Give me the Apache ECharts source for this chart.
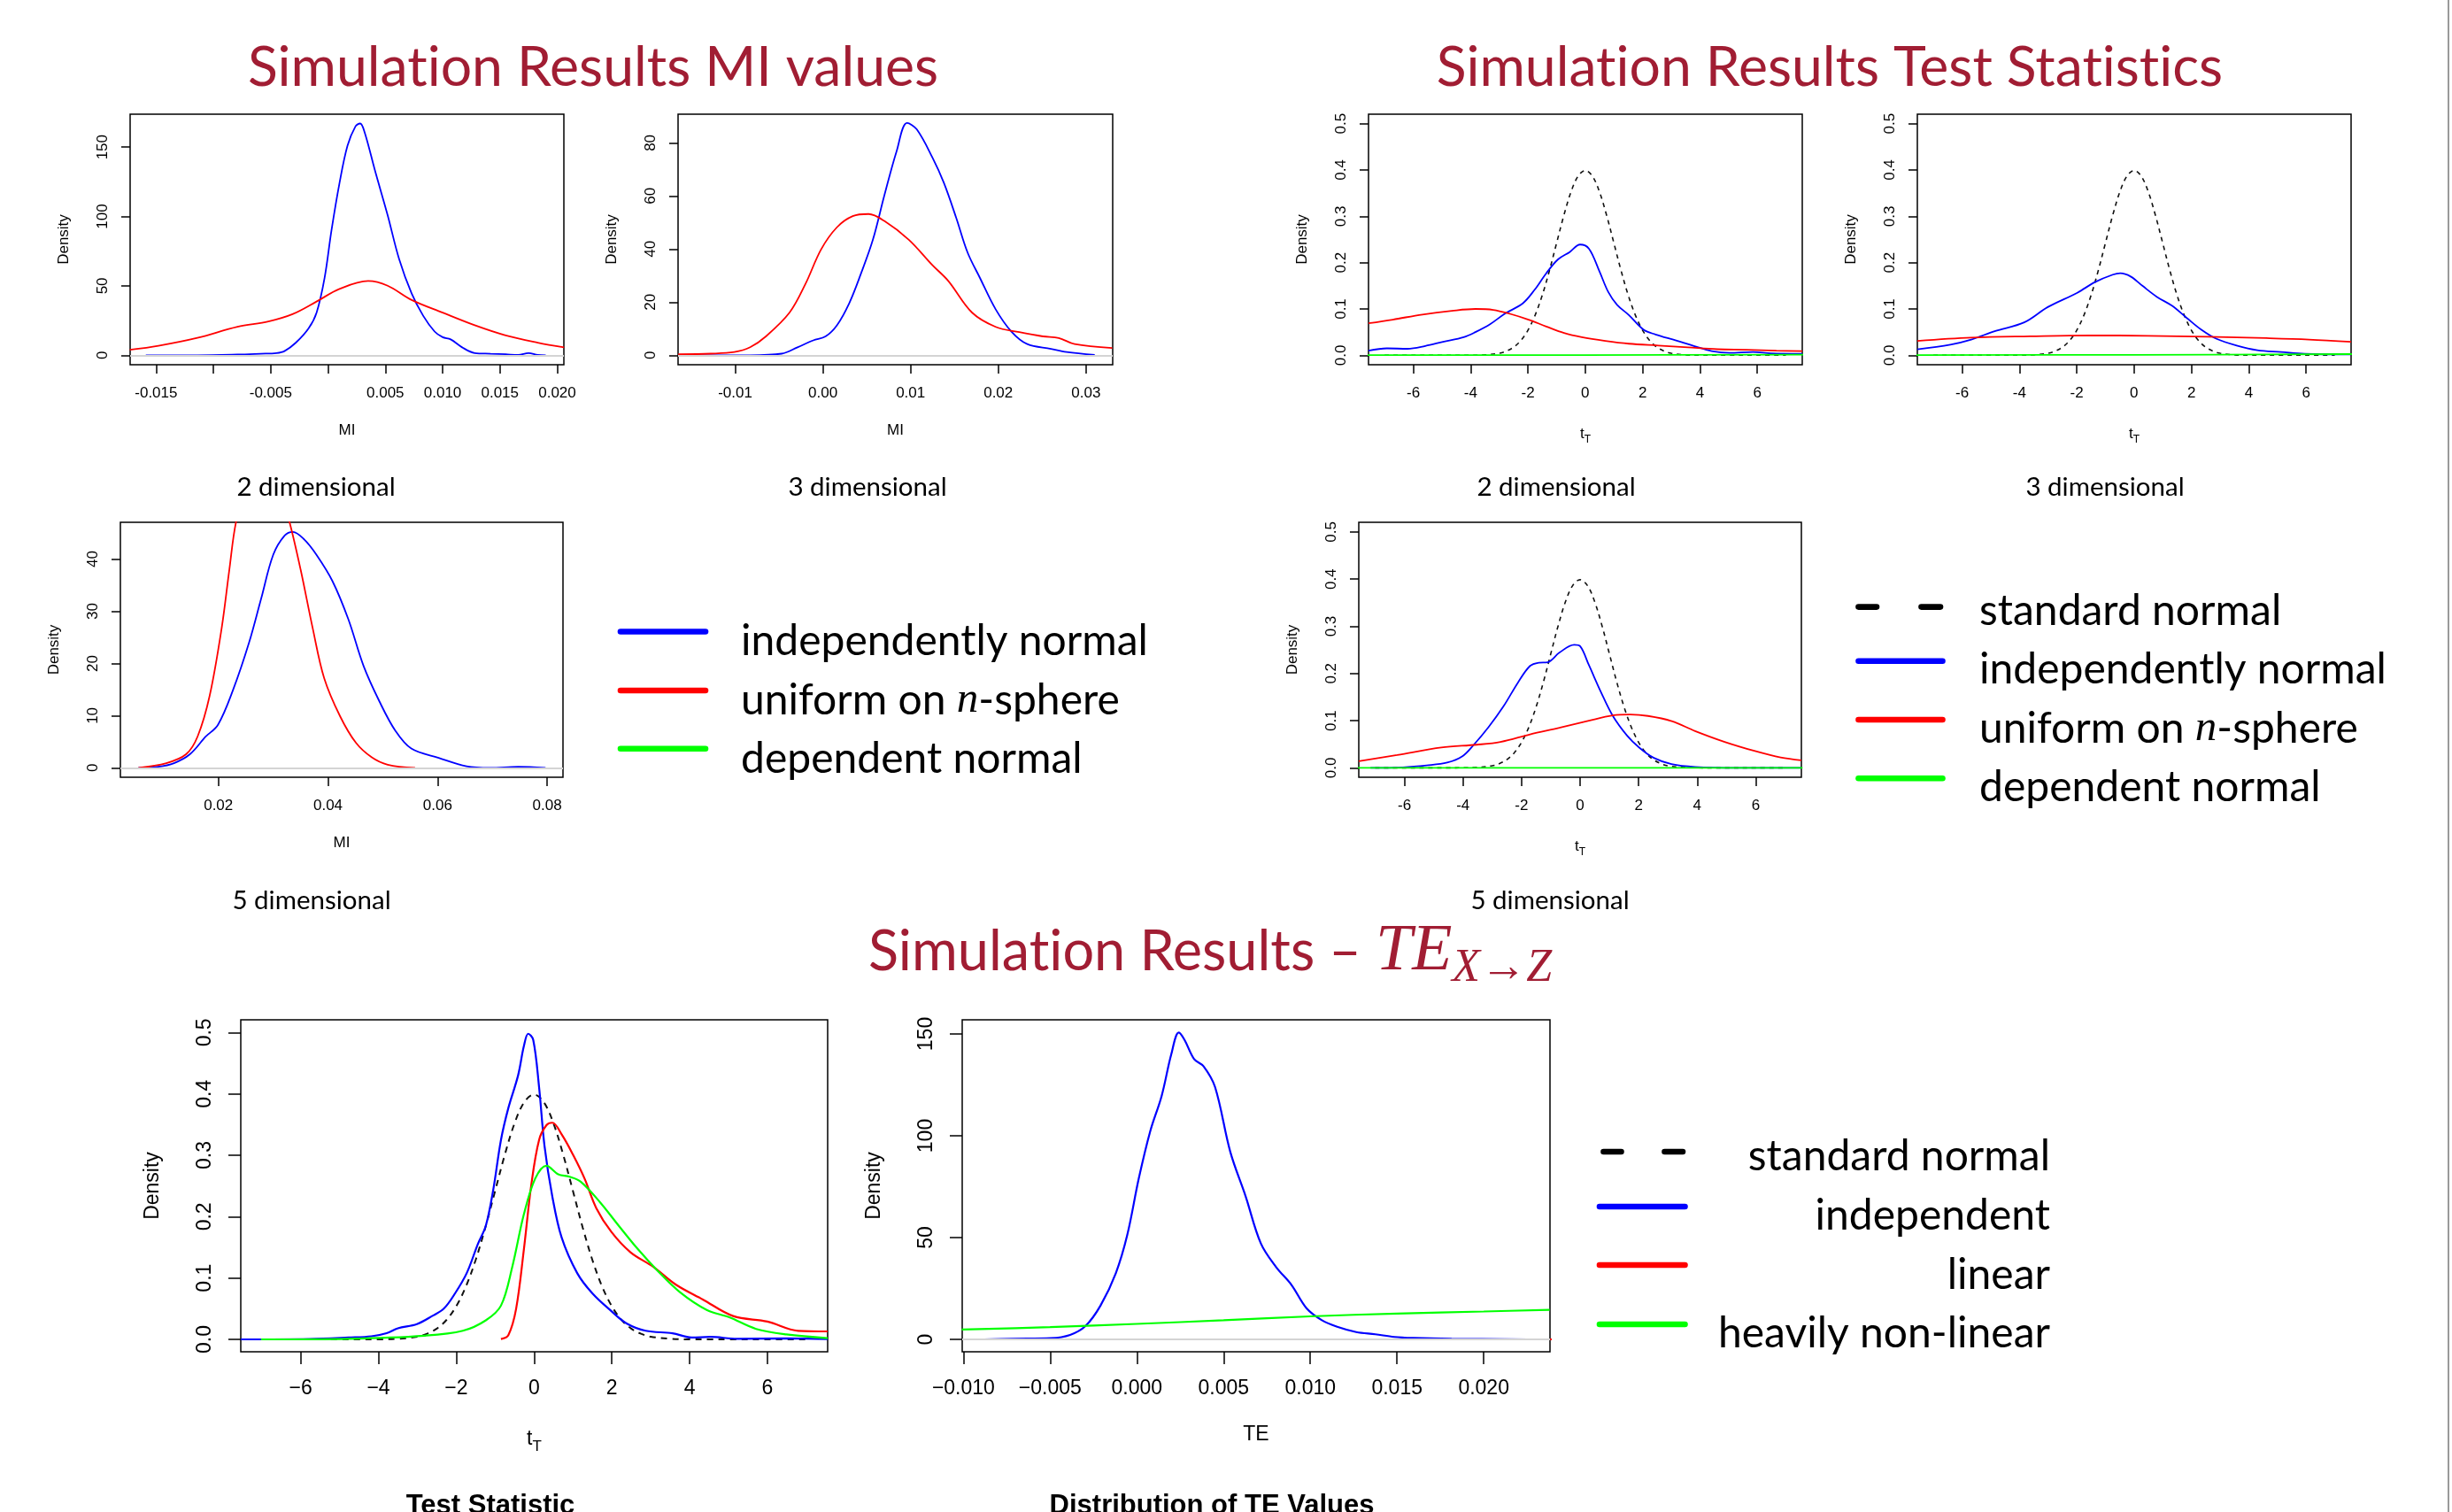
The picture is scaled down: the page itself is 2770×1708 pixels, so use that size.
<!DOCTYPE html>
<html>
<head>
<meta charset="utf-8">
<script src="https://cdn.jsdelivr.net/npm/echarts@6/dist/echarts.min.js"></script>
<style>
  html, body { margin: 0; padding: 0; background: #fff; }
  #main { width: 2770px; height: 1708px; }
</style>
</head>
<body>
<div id="main"></div>
<script>
// density curves, each point is [x, density]

// MI values, 2 dimensional
const mi2Blue = [[-0.0159,0],[-0.0114,0],[-0.0079,0.5],[-0.0059,1.1],[-0.0045,1.6],[-0.0038,3.0],[-0.0028,9.1],[-0.0017,19.3],[-0.0010,30.7],[-0.0003,55.8],[0.0003,89.9],[0.0010,124],[0.0017,151],[0.0024,165],[0.0028,167],[0.0032,160.5],[0.0041,133],[0.0052,101],[0.0062,69.4],[0.0073,44.4],[0.0083,28.5],[0.0093,17.1],[0.0100,13.0],[0.0107,11.4],[0.0117,5.7],[0.0128,1.6],[0.0142,1.1],[0.0155,0.7],[0.0166,0.2],[0.0175,1.6],[0.0183,0.2],[0.0190,0]];
const mi2Red = [[-0.0173,3.9],[-0.0148,6.8],[-0.0114,12.5],[-0.0079,20.5],[-0.0052,24.4],[-0.0031,29.6],[-0.0010,38.7],[0.0010,47.8],[0.0035,53.5],[0.0052,50.1],[0.0073,39.8],[0.0100,30.7],[0.0128,21.6],[0.0155,14.3],[0.0183,9.1],[0.0206,5.7]];

// MI values, 3 dimensional
const mi3Blue = [[-0.0146,0],[-0.0083,0],[-0.0047,0.6],[-0.0029,3.0],[-0.0011,5.6],[0.0003,7.1],[0.0016,11.3],[0.0030,19.6],[0.0043,30.4],[0.0057,43.5],[0.0070,60.1],[0.0084,76.8],[0.0096,87.5],[0.0107,85.1],[0.0125,74.4],[0.0138,64.9],[0.0152,51.8],[0.0165,38.7],[0.0179,29.2],[0.0197,17.3],[0.0215,8.9],[0.0233,4.2],[0.0260,2.4],[0.0278,1.2],[0.0310,0.1]];
const mi3Red = [[-0.0165,0.4],[-0.0128,0.6],[-0.0101,1.2],[-0.0083,3.0],[-0.0065,7.1],[-0.0038,16.1],[-0.0020,26.8],[-0.0002,39.9],[0.0016,48.2],[0.0034,52.4],[0.0052,53.2],[0.0070,50.6],[0.0098,43.5],[0.0125,33.9],[0.0143,28.0],[0.0170,16.1],[0.0197,10.7],[0.0224,8.7],[0.0251,7.1],[0.0269,6.5],[0.0287,4.2],[0.0330,2.7]];

// MI values, 5 dimensional (red runs off the top)
const mi5Blue = [[0.0054,0],[0.0090,0.2],[0.0119,0.9],[0.0148,2.6],[0.0177,6.0],[0.0199,8.2],[0.0227,15.0],[0.0256,24.0],[0.0278,32.4],[0.0300,40.8],[0.0321,44.5],[0.0336,45.2],[0.0357,43.7],[0.0379,40.8],[0.0408,35.8],[0.0437,28.5],[0.0465,19.5],[0.0494,12.7],[0.0523,7.1],[0.0552,3.7],[0.0602,1.9],[0.0653,0.3],[0.0696,0],[0.0747,0.2],[0.0797,0]];
const mi5Red = [[0.0054,0],[0.0105,0.9],[0.0141,2.6],[0.0162,6.0],[0.0184,13.8],[0.0206,26.8],[0.0220,38.0],[0.0232,47.0],[0.0255,56],[0.0280,60],[0.0305,56],[0.0330,47.0],[0.0350,38.0],[0.0372,26.8],[0.0393,17.2],[0.0422,9.9],[0.0451,4.8],[0.0480,2.0],[0.0509,0.6],[0.0559,0]];

// standard normal reference (dashed)
const stdNormal = [[-7,0],[-6,0],[-5,0],[-4.5,0],[-4,0.0001],[-3.5,0.0009],[-3,0.0044],[-2.75,0.0091],[-2.5,0.0175],[-2.25,0.0317],[-2,0.054],[-1.75,0.0863],[-1.5,0.1295],[-1.25,0.1826],[-1,0.242],[-0.75,0.3011],[-0.5,0.3521],[-0.25,0.3867],[0,0.3989],[0.25,0.3867],[0.5,0.3521],[0.75,0.3011],[1,0.242],[1.25,0.1826],[1.5,0.1295],[1.75,0.0863],[2,0.054],[2.25,0.0317],[2.5,0.0175],[2.75,0.0091],[3,0.0044],[3.5,0.0009],[4,0.0001],[4.5,0],[5,0],[6,0],[7,0]];

// test statistics, 2 dimensional
const ts2Blue = [[-7.56,0.010],[-6.92,0.015],[-6.2,0.014],[-5.58,0.020],[-4.96,0.029],[-4.24,0.039],[-3.83,0.050],[-3.32,0.067],[-2.80,0.090],[-2.18,0.112],[-1.77,0.141],[-1.36,0.177],[-0.95,0.207],[-0.54,0.223],[-0.18,0.239],[0.13,0.230],[0.49,0.182],[0.80,0.137],[1.11,0.109],[1.52,0.087],[2.04,0.055],[2.45,0.045],[3.17,0.032],[3.79,0.020],[4.41,0.009],[5.03,0.005],[5.85,0.007],[6.47,0.004],[7.57,0.003]];
const ts2Red = [[-7.56,0.069],[-6.71,0.077],[-5.68,0.088],[-4.65,0.096],[-3.83,0.100],[-3.21,0.098],[-2.60,0.089],[-1.98,0.077],[-1.36,0.062],[-0.74,0.048],[-0.12,0.039],[0.70,0.031],[1.52,0.025],[2.55,0.021],[3.58,0.017],[4.61,0.013],[5.64,0.012],[6.67,0.010],[7.57,0.009]];
const ts2Green = [[-7.6,0.0005],[0,0.0005],[7.6,0.0015]];

// test statistics, 3 dimensional
const ts3Blue = [[-7.56,0.013],[-6.41,0.023],[-5.68,0.034],[-4.86,0.052],[-3.83,0.071],[-3.01,0.104],[-1.98,0.135],[-1.36,0.158],[-0.74,0.174],[-0.48,0.177],[-0.12,0.170],[0.29,0.150],[0.80,0.126],[1.32,0.107],[1.83,0.081],[2.35,0.055],[2.86,0.036],[3.58,0.021],[4.30,0.011],[5.13,0.007],[5.95,0.003],[7.57,0.002]];
const ts3Red = [[-7.56,0.031],[-5.68,0.038],[-3.63,0.041],[-1.57,0.043],[0.49,0.042],[2.55,0.040],[4.61,0.037],[6.1,0.034],[7.57,0.029]];
const ts3Green = [[-7.6,0.0005],[0,0.001],[7.6,0.0025]];

// test statistics, 5 dimensional
const ts5Blue = [[-7.16,0],[-6.05,0.001],[-5.24,0.005],[-4.54,0.011],[-4.03,0.024],[-3.63,0.049],[-3.13,0.086],[-2.62,0.130],[-2.12,0.181],[-1.71,0.216],[-1.41,0.223],[-1.11,0.224],[-0.71,0.244],[-0.20,0.261],[0.00,0.258],[0.30,0.218],[0.71,0.161],[1.11,0.111],[1.61,0.068],[2.02,0.043],[2.52,0.021],[3.12,0.008],[3.93,0.002],[5.34,0],[7.56,0]];
const ts5Red = [[-7.56,0.014],[-6.25,0.027],[-4.74,0.043],[-3.53,0.049],[-2.72,0.055],[-1.71,0.071],[-0.71,0.085],[0.30,0.100],[1.11,0.111],[1.71,0.113],[2.32,0.110],[3.13,0.099],[3.93,0.078],[4.94,0.055],[5.95,0.036],[6.85,0.022],[7.56,0.016]];
const ts5Green = [[-7.6,0],[7.6,0]];

// TE X->Z test statistic
const teStatBlue = [[-7.54,0],[-6.73,0],[-5.75,0.0005],[-4.77,0.003],[-4.18,0.005],[-3.79,0.010],[-3.50,0.018],[-3.01,0.025],[-2.62,0.038],[-2.32,0.050],[-2.03,0.075],[-1.73,0.108],[-1.44,0.156],[-1.24,0.185],[-1.05,0.243],[-0.85,0.325],[-0.66,0.377],[-0.41,0.430],[-0.26,0.478],[-0.15,0.498],[-0.02,0.488],[0.13,0.411],[0.27,0.315],[0.47,0.233],[0.71,0.166],[1.11,0.108],[1.50,0.075],[1.99,0.046],[2.38,0.026],[2.87,0.014],[3.56,0.010],[4.05,0.003],[4.53,0.004],[5.22,0.001],[6.49,0.0015],[7.55,0.0005]];
const teStatRed = [[-0.85,0.0005],[-0.66,0.007],[-0.46,0.050],[-0.26,0.147],[-0.07,0.252],[0.13,0.325],[0.32,0.349],[0.47,0.353],[0.71,0.334],[1.01,0.300],[1.30,0.262],[1.60,0.214],[1.99,0.175],[2.48,0.142],[3.07,0.118],[3.65,0.089],[4.34,0.065],[5.12,0.038],[6.00,0.029],[6.79,0.014],[7.55,0.013]];
const teStatGreen = [[-7.02,0],[-4.77,0.001],[-2.81,0.006],[-1.83,0.014],[-1.24,0.031],[-0.85,0.055],[-0.56,0.118],[-0.26,0.204],[0.03,0.262],[0.32,0.283],[0.62,0.269],[0.91,0.265],[1.20,0.257],[1.69,0.224],[2.18,0.185],[2.67,0.147],[3.16,0.113],[3.75,0.077],[4.44,0.048],[5.02,0.036],[5.71,0.017],[6.49,0.008],[7.55,0.002]];

// distribution of TE values
const teValBlue = [[-0.0088,0],[-0.00715,0.3],[-0.00495,0.6],[-0.00385,2.2],[-0.00297,6.5],[-0.00209,16.7],[-0.00121,32.6],[-0.00055,51.4],[0.00011,79.0],[0.00077,102.2],[0.00143,119.6],[0.00198,139.9],[0.00242,150.7],[0.00275,147.1],[0.0033,137.7],[0.00385,134.1],[0.00451,123.9],[0.00539,92.0],[0.00627,70.3],[0.00715,47.1],[0.00803,35.5],[0.00891,26.8],[0.00979,15.2],[0.01067,9.4],[0.01155,6.2],[0.01265,3.6],[0.01375,2.5],[0.01485,1.2],[0.01595,0.7],[0.01815,0.3],[0.02255,0]];
const teValRed = [[0.0041,0],[0.0240,0]];
const teValGreen = [[-0.0101,4.8],[-0.005,6.0],[0,7.6],[0.005,9.4],[0.010,11.3],[0.015,12.7],[0.020,13.7],[0.0238,14.5]];

// tick positions and labels
const miTicks2 = [-0.015,-0.010,-0.005,0,0.005,0.010,0.015,0.020];
const miLabels2 = [-0.015,-0.005,0.005,0.010,0.015,0.020];
const miTicks3 = [-0.01,0,0.01,0.02,0.03];
const miTicks5 = [0.02,0.04,0.06,0.08];
const tTicks = [-6,-4,-2,0,2,4,6];
const teTicks = [-0.010,-0.005,0,0.005,0.010,0.015,0.020];
const densTicks150 = [0,50,100,150];
const densTicks80 = [0,20,40,60,80];
const densTicks40 = [0,10,20,30,40];
const densTicksT = [0,0.1,0.2,0.3,0.4,0.5];

const BLUE = '#0000ff', RED = '#ff0000', GREEN = '#00ff00', BLACK = '#111';
const CRIMSON = '#a11d33';
const RFONT = 'Liberation Sans';
const SFONT = 'Lato';
const MFONT = 'Liberation Serif';

const grids = [], xAxes = [], yAxes = [], series = [];

function signed(v, digits, minus) {
  const s = Math.abs(v).toFixed(digits);
  return v < 0 ? minus + s : s;
}

function panel(p) {
  const i = grids.length;
  const big = !!p.big;
  const fs = big ? 23 : 17;
  const tick = big ? 14 : 10;
  const txt = { fontFamily: RFONT, color: '#000', fontSize: fs };
  grids.push({
    left: p.box[0], top: p.box[1], width: p.box[2], height: p.box[3],
    show: true, borderColor: '#000', borderWidth: 1.5, backgroundColor: 'rgba(0,0,0,0)',
    containLabel: false, outerBoundsMode: 'none'
  });
  const sub = Math.round(fs * 0.72);
  xAxes.push({
    gridIndex: i, type: 'value', position: 'bottom', min: p.x[0], max: p.x[1],
    axisLine: { show: false, onZero: false },
    splitLine: { show: false },
    axisTick: { show: true, inside: false, length: tick, customValues: p.xTicks, lineStyle: { color: '#000', width: 1.5 } },
    axisLabel: Object.assign({ show: true, customValues: p.xLabels || p.xTicks, formatter: p.xFmt, margin: big ? 30 : 24 }, txt),
    name: p.xName, nameLocation: 'middle', nameGap: big ? 82 : 66,
    nameTextStyle: Object.assign({}, txt, {
      rich: {
        a: { fontFamily: RFONT, fontSize: fs, color: '#000' },
        b: { fontFamily: RFONT, fontSize: sub, color: '#000', padding: [Math.round(fs * 0.75), 0, 0, 0] }
      }
    })
  });
  yAxes.push({
    gridIndex: i, type: 'value', position: 'left', min: p.y[0], max: p.y[1],
    axisLine: { show: false, onZero: false },
    splitLine: { show: false },
    axisTick: { show: true, inside: false, length: tick, customValues: p.yTicks, lineStyle: { color: '#000', width: 1.5 } },
    axisLabel: Object.assign({ show: true, rotate: 90, customValues: p.yTicks, formatter: p.yFmt, margin: big ? 29 : 22 }, txt),
    name: 'Density', nameLocation: 'middle', nameGap: big ? 88 : 66,
    nameTextStyle: txt
  });
  if (p.zeroLine) {
    series.push({
      type: 'line', xAxisIndex: i, yAxisIndex: i, data: [], z: 1,
      markLine: {
        silent: true, symbol: 'none', animation: false, label: { show: false },
        lineStyle: { color: '#d4d4d4', type: 'solid', width: 2 },
        data: [{ yAxis: 0 }]
      }
    });
  }
  p.lines.forEach(function (l, k) {
    series.push({
      type: 'line', xAxisIndex: i, yAxisIndex: i, data: l.data,
      showSymbol: false, symbol: 'none', smooth: 0.35, clip: true, z: 2 + k,
      lineStyle: { color: l.color, width: l.dash ? (big ? 2 : 1.6) : (big ? 2.2 : 1.8), type: l.dash ? (big ? [7, 6] : [5, 5]) : 'solid' }
    });
  });
}

const fmtT = v => signed(v, 0, '-');
const fmtTbig = v => signed(v, 0, '\u2212');
const fmtDens = v => v.toFixed(1);
const fmtInt = v => String(v);

panel({ box: [147, 129, 490, 283], x: [-0.01727, 0.02058], y: [-6.83, 173.7],
  xTicks: miTicks2, xLabels: miLabels2, xFmt: v => signed(v, 3, '-'), yTicks: densTicks150, yFmt: fmtInt,
  xName: 'MI', zeroLine: true, lines: [{ data: mi2Blue, color: BLUE }, { data: mi2Red, color: RED }] });
panel({ box: [766, 129, 491, 283], x: [-0.01652, 0.03305], y: [-3.57, 90.8],
  xTicks: miTicks3, xFmt: v => signed(v, 2, '-'), yTicks: densTicks80, yFmt: fmtInt,
  xName: 'MI', zeroLine: true, lines: [{ data: mi3Blue, color: BLUE }, { data: mi3Red, color: RED }] });
panel({ box: [136, 590, 500, 288], x: [0.00211, 0.08289], y: [-1.80, 47.03],
  xTicks: miTicks5, xFmt: v => v.toFixed(2), yTicks: densTicks40, yFmt: fmtInt,
  xName: 'MI', zeroLine: true, lines: [{ data: mi5Blue, color: BLUE }, { data: mi5Red, color: RED }] });
panel({ box: [1546, 129, 490, 283], x: [-7.56, 7.57], y: [-0.0204, 0.5204],
  xTicks: tTicks, xFmt: fmtT, yTicks: densTicksT, yFmt: fmtDens, xName: '{a|t}{b|T}',
  lines: [{ data: stdNormal, color: BLACK, dash: true }, { data: ts2Blue, color: BLUE }, { data: ts2Red, color: RED }, { data: ts2Green, color: GREEN }] });
panel({ box: [2166, 129, 490, 283], x: [-7.56, 7.57], y: [-0.0204, 0.5204],
  xTicks: tTicks, xFmt: fmtT, yTicks: densTicksT, yFmt: fmtDens, xName: '{a|t}{b|T}',
  lines: [{ data: stdNormal, color: BLACK, dash: true }, { data: ts3Blue, color: BLUE }, { data: ts3Red, color: RED }, { data: ts3Green, color: GREEN }] });
panel({ box: [1535, 590, 500, 288], x: [-7.56, 7.56], y: [-0.02, 0.5206],
  xTicks: tTicks, xFmt: fmtT, yTicks: densTicksT, yFmt: fmtDens, xName: '{a|t}{b|T}',
  lines: [{ data: stdNormal, color: BLACK, dash: true }, { data: ts5Blue, color: BLUE }, { data: ts5Red, color: RED }, { data: ts5Green, color: GREEN }] });
panel({ big: true, box: [272, 1152, 663, 375], x: [-7.54, 7.55], y: [-0.0202, 0.5207],
  xTicks: tTicks, xFmt: fmtTbig, yTicks: densTicksT, yFmt: fmtDens, xName: '{a|t}{b|T}',
  lines: [{ data: stdNormal, color: BLACK, dash: true }, { data: teStatBlue, color: BLUE }, { data: teStatRed, color: RED }, { data: teStatGreen, color: GREEN }] });
panel({ big: true, box: [1087, 1152, 664, 375], x: [-0.01007, 0.02382], y: [-6.09, 156.96],
  xTicks: teTicks, xFmt: v => signed(v, 3, '\u2212'), yTicks: densTicks150, yFmt: fmtInt,
  xName: 'TE', zeroLine: true, lines: [{ data: teValBlue, color: BLUE }, { data: teValRed, color: RED }, { data: teValGreen, color: GREEN }] });

// slide text: titles, captions and the hand-made legends
function text(x, y, str, size, opts) {
  return {
    type: 'text', x: x, y: y, silent: true,
    style: Object.assign({
      text: str, fontFamily: SFONT, fontSize: size, fill: '#000',
      align: 'left', verticalAlign: 'middle'
    }, opts || {})
  };
}
function seg(x1, x2, y, color) {
  return { type: 'line', silent: true, shape: { x1: x1, y1: y, x2: x2, y2: y },
    style: { stroke: color, lineWidth: 6.6, lineCap: 'round' } };
}
const LEG = 48, TITLE = 62.5, CAP = 29.5;
const nRich = { m: { fontFamily: MFONT, fontStyle: 'italic', fontSize: LEG + 1, fill: '#000' } };

// Lato joins "ti" into a ligature; splitting the word into separate rich tokens keeps the letters apart
const tok = { fontFamily: SFONT, fontSize: TITLE, fill: CRIMSON, lineHeight: 84, verticalAlign: 'middle' };
const simTitle = '{a|Simulat}{a|ion Results}';

const graphic = [
  text(670, 77, simTitle + '{a| MI values}', TITLE, { fill: CRIMSON, align: 'center', rich: { a: tok } }),
  text(2067, 77, simTitle + '{a| Test Stat}{a|ist}{a|ics}', TITLE, { fill: CRIMSON, align: 'center', rich: { a: tok } }),
  text(1367, 1076, simTitle + '{a| \u2013 }{b|TE}{c|X\u2192Z}', TITLE, {
    fill: CRIMSON, align: 'center',
    rich: {
      a: Object.assign({}, tok, { fontSize: 63 }),
      b: { fontFamily: MFONT, fontStyle: 'italic', fontSize: 74, fill: CRIMSON, lineHeight: 88, verticalAlign: 'middle' },
      c: { fontFamily: MFONT, fontStyle: 'italic', fontSize: 52, fill: CRIMSON, lineHeight: 88, verticalAlign: 'bottom' }
    }
  }),

  text(357, 550, '2 dimensional', CAP, { align: 'center' }),
  text(980, 550, '3 dimensional', CAP, { align: 'center' }),
  text(352, 1017, '5 dimensional', CAP, { align: 'center' }),
  text(1758, 550, '2 dimensional', CAP, { align: 'center' }),
  text(2378, 550, '3 dimensional', CAP, { align: 'center' }),
  text(1751, 1017, '5 dimensional', CAP, { align: 'center' }),
  text(554, 1701, 'Test Statistic', 31, { align: 'center', fontFamily: RFONT, fontWeight: 'bold' }),
  text(1369, 1701, 'Distribution of TE Values', 31, { align: 'center', fontFamily: RFONT, fontWeight: 'bold' }),

  // legend for the MI panels
  seg(701, 797, 713.5, BLUE), seg(701, 797, 780, RED), seg(701, 797, 845.7, GREEN),
  text(837, 725, 'independently normal', LEG),
  text(837, 791.5, 'uniform on {m|n}-sphere', LEG, { rich: nRich }),
  text(837, 858, 'dependent normal', LEG),

  // legend for the test statistic panels
  seg(2099.5, 2120, 685.6, '#000'), seg(2170.5, 2192, 685.6, '#000'),
  seg(2099.5, 2194.5, 746.7, BLUE), seg(2099.5, 2194.5, 813, RED), seg(2099.5, 2194.5, 879.3, GREEN),
  text(2236, 690.5, 'standard normal', LEG),
  text(2236, 757, 'independently normal', LEG),
  text(2236, 823.5, 'uniform on {m|n}-sphere', LEG, { rich: nRich }),
  text(2236, 889.7, 'dependent normal', LEG),

  // legend for the TE panels (right aligned text)
  seg(1811.5, 1831.5, 1301, '#000'), seg(1880.5, 1901, 1301, '#000'),
  seg(1807, 1903.5, 1363, BLUE), seg(1807, 1903.5, 1429, RED), seg(1807, 1903.5, 1496, GREEN),
  text(2316, 1307, 'standard normal', LEG, { align: 'right' }),
  text(2316, 1373.7, 'independent', LEG, { align: 'right' }),
  text(2316, 1440.4, 'linear', LEG, { align: 'right' }),
  text(2316, 1507, 'heavily non-linear', LEG, { align: 'right' }),

  // slide edge
  { type: 'line', silent: true, shape: { x1: 2766, y1: 0, x2: 2766, y2: 1708 }, style: { stroke: '#9a9a9a', lineWidth: 2 } }
];

const chart = echarts.init(document.getElementById('main'), null, { renderer: 'canvas', width: 2770, height: 1708 });
chart.setOption({
  animation: false,
  backgroundColor: '#fff',
  grid: grids,
  xAxis: xAxes,
  yAxis: yAxes,
  series: series,
  graphic: graphic
});
</script>
</body>
</html>
